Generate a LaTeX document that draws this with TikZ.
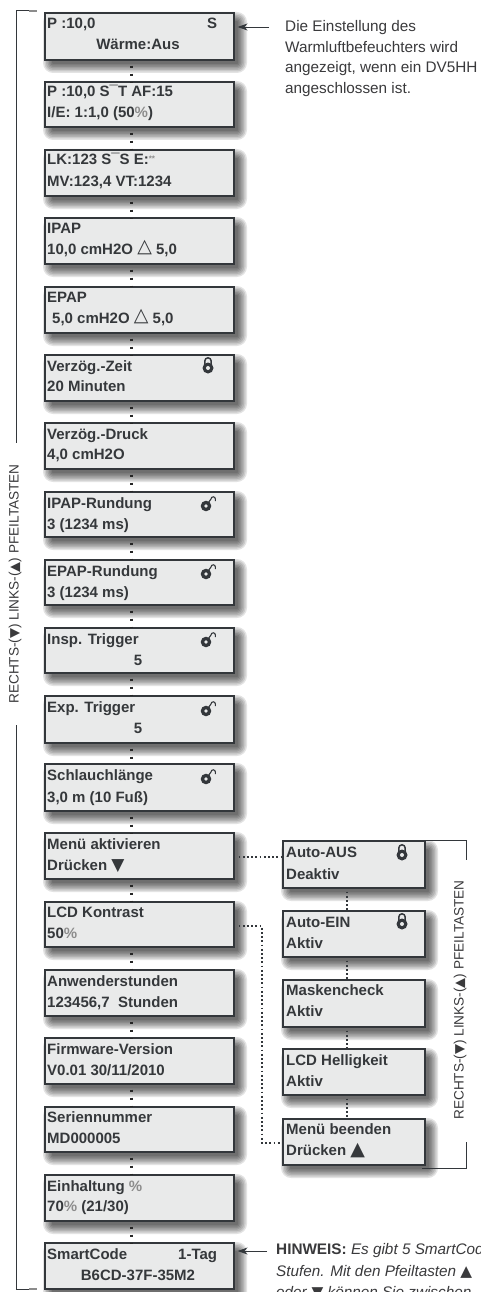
\documentclass[tikz,border=0pt]{standalone}
\usepackage{fontspec}
\setmainfont{Liberation Sans}
\newfontfamily\symf{DejaVu Sans}
\usetikzlibrary{calc,arrows.meta}
\definecolor{lcdbg}{HTML}{E9EAEA}
\definecolor{lcdline}{HTML}{33373B}
\definecolor{lcdtext}{HTML}{35383B}
\definecolor{notetext}{HTML}{3A3A3C}
\newcommand{\pct}{{\color{black!45}\%}}
\newcommand{\vlabtext}{RECHTS-({\symf\fontsize{13}{14}\selectfont▼}) LINKS-({\symf\fontsize{13}{14}\selectfont▲}) PFEILTASTEN}
\newcommand{\deltasym}{\raisebox{1.5pt}{\symf\mdseries\fontsize{19}{19}\selectfont △}}
\tikzset{
  x=1pt,y=-1pt,
  lcdbox/.style={draw=lcdline,fill=lcdbg,line width=1.6pt,inner sep=0pt,anchor=north west},
  lcdt/.style={anchor=base west,inner sep=0pt,text=lcdtext,font=\fontsize{15}{16}\selectfont\bfseries},
  lcdc/.style={lcdt,anchor=base},
  notet/.style={anchor=base west,inner sep=0pt,text=notetext,font=\fontsize{15.3}{17}\selectfont},
  vlab/.style={inner sep=0pt,rotate=90,text=notetext,font=\fontsize{13.6}{15}\selectfont},
  dots/.style={draw=black!85,line width=2.8pt,dash pattern=on 2.8pt off 5.2pt},
  fdots/.style={draw=lcdline,line width=1.7pt,dash pattern=on 1.8pt off 2.4pt},
  brk/.style={draw=lcdline,line width=1pt},
  brkend/.style={draw=black!45,line width=1.2pt},
  pointer/.style={draw=lcdline,line width=0.9pt,-{Stealth[length=10pt,width=7pt]},shorten >=3pt},
}
% name, left, top, width, height
\newcommand{\lcd}[5]{%
  \foreach \g in {10,8.5,7,5.5,4,2.5,1}{%
    \fill[black,opacity=.11,rounded corners=\g pt] (#2+9-\g,#3+10-\g) rectangle (#2+#4+4+\g,#3+#5+4+\g);}
  \node[lcdbox,minimum width=#4 pt,minimum height=#5 pt] (#1) at (#2,#3) {};}
\newcommand{\lockc}[2]{%
  \draw[lcdline,line width=1.5pt] (#1-3.2,#2-3) -- (#1-3.2,#2-7) arc[start angle=180,end angle=360,radius=3.2] -- (#1+3.2,#2-3);
  \fill[lcdline] (#1,#2) circle (5.5);
  \fill[lcdbg] (#1,#2) circle (2);}
\newcommand{\locko}[2]{%
  \draw[lcdline,line width=1.1pt] (#1+2,#2-3) -- (#1+5,#2-7) arc[start angle=180,end angle=360,radius=2.2] -- (#1+9.4,#2-5);
  \fill[lcdline] (#1,#2) circle (5.3);
  \fill[lcdbg] (#1,#2) circle (1.9);}
\begin{document}
\begin{tikzpicture}
\useasboundingbox (0,0) rectangle (481,1292);
\clip (0,0) rectangle (481,1292);
\fill[white] (0,0) rectangle (481,1292);
% brackets
\coordinate (bt) at (16,11); \coordinate (btm) at (29,11); \coordinate (btr) at (37,11);
\coordinate (bm1) at (16,443); \coordinate (bm2) at (16,725);
\coordinate (bb) at (16,1289); \coordinate (bbm) at (29,1289); \coordinate (bbr) at (37,1289);
\draw[brk] (btm) -- (bt) -- (bm1);
\draw[brk] (bm2) -- (bb) -- (bbm);
\draw[brkend] (btm) -- (btr);
\draw[brkend] (bbm) -- (bbr);
\node[vlab] (vl1) at (15,584) {\vlabtext};
% main column
\lcd{a1}{44}{12}{189}{47}
\lcd{a2}{44}{81}{189}{45}
\lcd{a3}{44}{149}{189}{46}
\lcd{a4}{44}{217}{189}{46}
\lcd{a5}{44}{286}{189}{46}
\lcd{a6}{44}{354}{189}{46}
\lcd{a7}{44}{422}{189}{46}
\lcd{a8}{44}{491}{189}{45}
\lcd{a9}{44}{559}{189}{45}
\lcd{a10}{44}{627}{189}{45}
\lcd{a11}{44}{695}{189}{47}
\lcd{a12}{44}{763}{189}{47}
\lcd{a13}{44}{832}{189}{46}
\lcd{a14}{44}{901}{189}{45}
\lcd{a15}{44}{969}{189}{46}
\lcd{a16}{44}{1037}{189}{46}
\lcd{a17}{44}{1106}{189}{45}
\lcd{a18}{44}{1174}{189}{46}
\lcd{a19}{44}{1242}{189}{46}
% side column
\lcd{b1}{282}{840}{142}{47}
\lcd{b2}{282}{910}{142}{46}
\lcd{b3}{282}{979}{142}{47}
\lcd{b4}{282}{1048}{142}{46}
\lcd{b5}{282}{1118}{142}{46}
% connectors
\foreach \p/\q in {a1/a2,a2/a3,a3/a4,a4/a5,a5/a6,a6/a7,a7/a8,a8/a9,a9/a10,a10/a11,a11/a12,a12/a13,a13/a14,a14/a15,a15/a16,a16/a17,a17/a18,a18/a19}
  \draw[dots] ($(\p.south)+(-8,5)$) -- ($(\q.north)+(-8,1)$);
\foreach \p/\q in {b1/b2,b2/b3,b3/b4,b4/b5}
  \draw[fdots] ($(\p.south)+(-7,3)$) -- ($(\q.north)+(-7,0)$);
\draw[fdots] ($(a13.east)+(4,1)$) -- ($(a13.east -| b1.west)+(0,1)$);
\coordinate (lk) at (262,926);
\coordinate (lk2) at (262,1143);
\coordinate (lk3) at (282,1143);
\draw[fdots] (a14.east |- lk) ++(4,0) -- (lk) -- (lk2) -- (lk3);
% side bracket
\coordinate (sb0) at (424,840); \coordinate (sb1) at (466,840); \coordinate (sb2) at (466,860);
\coordinate (sb5) at (422,1168); \coordinate (sb3) at (466,1168); \coordinate (sb4) at (466,1142);
\draw[brk] (sb0) -- (sb1) -- (sb2);
\draw[brk] (sb5) -- (sb3) -- (sb4);
\node[vlab] (vl2) at (460,1000) {\vlabtext};
% texts
\node[lcdt] (t1) at (47,29) {P :10,0};
\node[lcdt] (t1r) at (207,29) {S};
\node[lcdc] (t1b) at (138,50) {Wärme:Aus};
\node[lcdt] (t2) at (47,97) {P :10,0 S¯T AF:15};
\node[lcdt] (t2b) at (47,118) {I/E: 1:1,0 (50\pct)};
\node[lcdt] (t3) at (47,165) {LK:123 S¯S E:{\color{black!45}\fontsize{8}{8}\selectfont\raisebox{3pt}{**}}};
\node[lcdt] (t3b) at (47,186) {MV:123,4 VT:1234};
\node[lcdt] (t4) at (47,233) {IPAP};
\node[lcdt] (t4b) at (47,254) {10,0 cmH2O \deltasym{} 5,0};
\node[lcdt] (t5) at (47,302) {EPAP};
\node[lcdt] (t5b) at (52,323) {5,0 cmH2O \deltasym{} 5,0};
\node[lcdt] (t6) at (47,371) {Verzög.-Zeit};
\node[lcdt] (t6b) at (47,391) {20 Minuten};
\node[lcdt] (t7) at (47,439) {Verzög.-Druck};
\node[lcdt] (t7b) at (47,459) {4,0 cmH2O};
\node[lcdt] (t8) at (47,508) {IPAP-Rundung};
\node[lcdt] (t8b) at (47,529) {3 (1234 ms)};
\node[lcdt] (t9) at (47,576) {EPAP-Rundung};
\node[lcdt] (t9b) at (47,597) {3 (1234 ms)};
\node[lcdt] (t10) at (47,644) {Insp. Trigger};
\node[lcdc] (t10b) at (138,665) {5};
\node[lcdt] (t11) at (47,712) {Exp. Trigger};
\node[lcdc] (t11b) at (138,733) {5};
\node[lcdt] (t12) at (47,780) {Schlauchlänge};
\node[lcdt] (t12b) at (47,802) {3,0 m (10 Fuß)};
\node[lcdt] (t13) at (47,849) {Menü aktivieren};
\node[lcdt] (t13b) at (47,870) {Drücken {\symf\fontsize{17}{17}\selectfont ▼}};
\node[lcdt] (t14) at (47,917) {LCD Kontrast};
\node[lcdt] (t14b) at (47,938) {50\pct};
\node[lcdt] (t15) at (47,986) {Anwenderstunden};
\node[lcdt] (t15b) at (47,1007) {123456,7\ \ Stunden};
\node[lcdt] (t16) at (47,1054) {Firmware-Version};
\node[lcdt] (t16b) at (47,1075) {V0.01 30/11/2010};
\node[lcdt] (t17) at (47,1122) {Seriennummer};
\node[lcdt] (t17b) at (47,1143) {MD000005};
\node[lcdt] (t18) at (47,1191) {Einhaltung \pct};
\node[lcdt] (t18b) at (47,1211) {70\pct{} (21/30)};
\node[lcdt] (t19) at (47,1259) {SmartCode};
\node[lcdt] (t19r) at (178,1259) {1-Tag};
\node[lcdc] (t19b) at (138,1280) {B6CD-37F-35M2};
\node[lcdt] (s1) at (286,857) {Auto-AUS};
\node[lcdt] (s1b) at (286,879) {Deaktiv};
\node[lcdt] (s2) at (286,927) {Auto-EIN};
\node[lcdt] (s2b) at (286,948) {Aktiv};
\node[lcdt] (s3) at (286,995) {Maskencheck};
\node[lcdt] (s3b) at (286,1016) {Aktiv};
\node[lcdt] (s4) at (286,1065) {LCD Helligkeit};
\node[lcdt] (s4b) at (286,1086) {Aktiv};
\node[lcdt] (s5) at (286,1134) {Menü beenden};
\node[lcdt] (s5b) at (286,1155) {Drücken {\symf\fontsize{19}{19}\selectfont ▲}};
% locks
\lockc{208}{368}
\locko{206}{506}
\locko{206}{574}
\locko{206}{642}
\locko{206}{711}
\locko{206}{779}
\lockc{402}{855}
\lockc{402}{924}
% notes
\node[notet] (n1) at (285,32) {Die Einstellung des};
\node[notet] (n2) at (285,53) {Warmluftbefeuchters wird};
\node[notet] (n3) at (285,73) {angezeigt, wenn ein DV5HH};
\node[notet] (n4) at (285,94) {angeschlossen ist.};
\coordinate (pa) at (269,27);
\draw[pointer] (pa) -- (a1.east |- pa);
\node[notet] (h1) at (276,1254) {\textbf{HINWEIS:} \textit{Es gibt 5 SmartCode-}};
\node[notet] (h2) at (276,1276) {\textit{Stufen. Mit den Pfeiltasten} {\symf ▲}};
\node[notet] (h3) at (276,1297) {\textit{oder} {\symf ▼} \textit{können Sie zwischen}};
\coordinate (pb) at (267,1251);
\draw[pointer] (pb) -- (a19.east |- pb);
\end{tikzpicture}
\end{document}
